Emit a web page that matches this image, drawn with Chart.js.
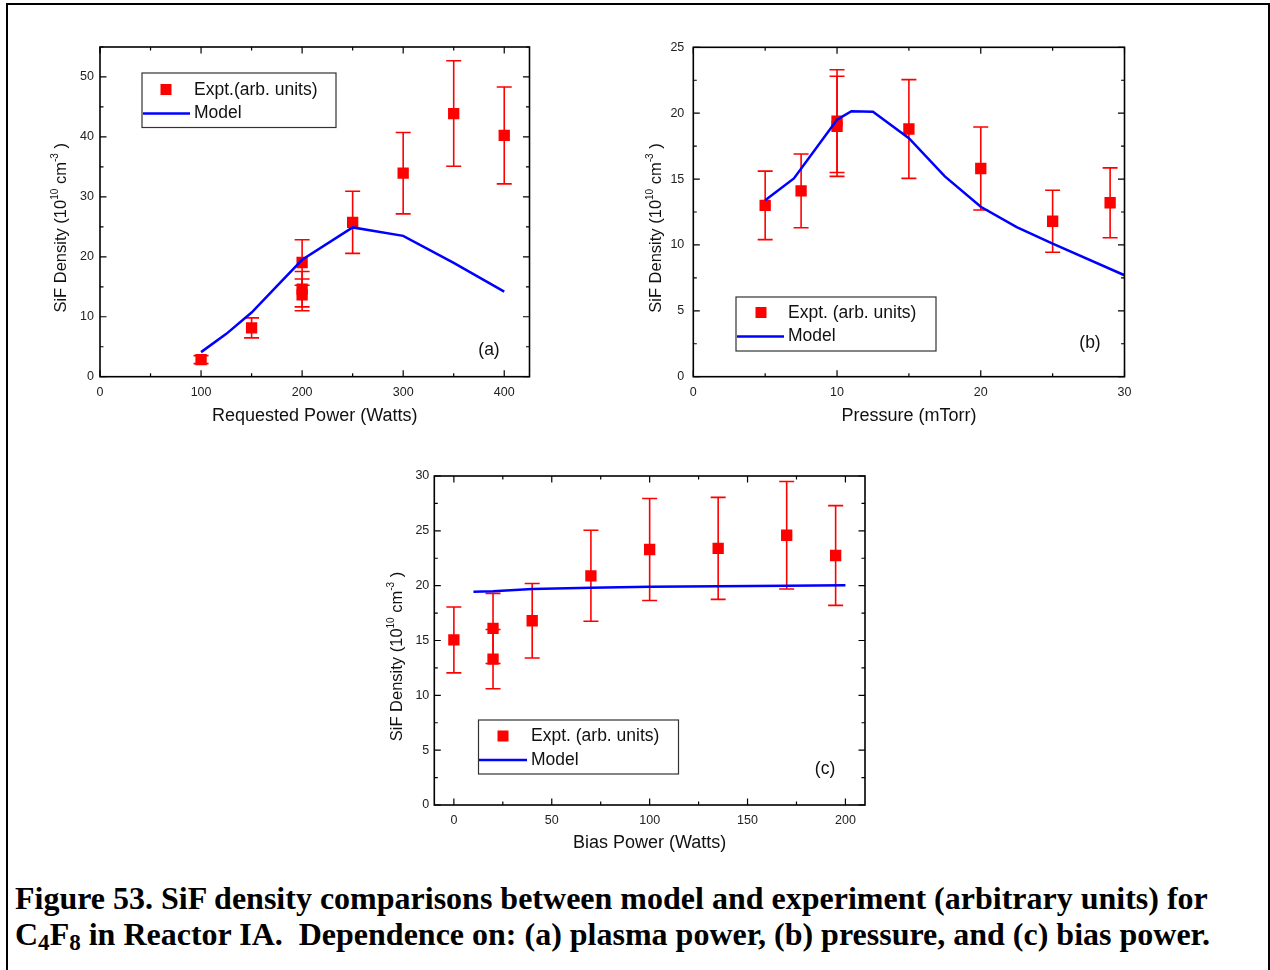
<!DOCTYPE html>
<html>
<head>
<meta charset="utf-8">
<title>SiF density comparisons</title>
<script src="https://cdn.jsdelivr.net/npm/chart.js@4.4.0/dist/chart.umd.min.js"></script>
<style>
  html, body { margin: 0; padding: 0; background: #fff; }
  body { width: 1270px; height: 970px; position: relative; overflow: hidden; }
  #frame { position: absolute; left: 6px; top: 3px; width: 1264px; height: 1000px;
           border: 2.5px solid #000; box-sizing: border-box; }
  .panel { position: absolute; }
  .panel canvas { display: block; }
  #caption { position: absolute; left: 15px; top: 880px; color: #000; white-space: pre;
             font: bold 32px "Liberation Serif", "Times New Roman", serif; line-height: 36px; }
  #caption sub { font-size: 0.72em; vertical-align: -0.22em; line-height: 0; }
</style>
</head>
<body>
<div id="frame"></div>
<div id="caption">Figure 53. SiF density comparisons between model and experiment (arbitrary units) for
C<sub>4</sub>F<sub>8</sub> in Reactor IA.  Dependence on: (a) plasma power, (b) pressure, and (c) bias power.</div>

<script>
// (a) requested plasma power
const powerTicksX = [0, 100, 200, 300, 400];
const powerTicksY = [0, 10, 20, 30, 40, 50];
const powerX      = [100, 150, 200, 200, 200, 250, 300, 350, 400];
const powerExpt   = [2.85, 8.15, 19.05, 14.6, 13.65, 25.75, 33.95, 43.9, 40.25];
const powerErr    = [0.67, 1.67, 3.8, 2.95, 2.65, 5.18, 6.78, 8.8, 8.08];
const powerModelX = [100, 125, 150, 175, 200, 250, 300, 350, 400];
const powerModel  = [4.1, 7.15, 10.7, 15.1, 19.5, 24.9, 23.5, 19.0, 14.2];

// (b) pressure
const pressTicksX = [0, 10, 20, 30];
const pressTicksY = [0, 5, 10, 15, 20, 25];
const pressX      = [5, 7.5, 10, 10, 15, 20, 25, 29];
const pressExpt   = [13.0, 14.1, 19.4, 19.0, 18.8, 15.8, 11.8, 13.2];
const pressErr    = [2.6, 2.8, 3.9, 3.8, 3.75, 3.15, 2.35, 2.65];
const pressModelX = [5, 7, 10, 11, 12.5, 15, 17.5, 20, 22.5, 25, 30];
const pressModel  = [13.4, 15.05, 19.5, 20.15, 20.1, 18.1, 15.2, 12.9, 11.35, 10.1, 7.7];

// (c) bias power
const biasTicksX = [0, 50, 100, 150, 200];
const biasTicksY = [0, 5, 10, 15, 20, 25, 30];
const biasX      = [0, 20, 20, 40, 70, 100, 135, 170, 195];
const biasExpt   = [15.05, 16.1, 13.3, 16.8, 20.9, 23.3, 23.4, 24.6, 22.75];
const biasErr    = [3.0, 3.2, 2.7, 3.4, 4.15, 4.65, 4.65, 4.9, 4.55];
const biasModelX = [10, 20, 40, 70, 100, 135, 170, 200];
const biasModel  = [19.45, 19.5, 19.7, 19.8, 19.9, 19.95, 20.0, 20.03];

const SANS = '"Liberation Sans", Arial, sans-serif';
const RED = '#ff0000';
const BLUE = '#0000ff';

// page coordinates: box = canvas rect, area = plot frame (left, top, right, bottom)
const panels = [
  {
    id: 'panelA', box: [20, 30, 540, 410], area: [100, 47, 529.5, 376.7],
    xMin: 0, xMax: 425, yMin: 0, yMax: 55,
    ticksX: powerTicksX, ticksY: powerTicksY, tickPadX: 8, tickPadY: 6,
    x: powerX, y: powerExpt, err: powerErr, modelX: powerModelX, model: powerModel,
    xTitle: 'Requested Power (Watts)', xTitleOff: 39, yTitleOff: 39,
    exptLabel: 'Expt.(arb. units)', tag: '(a)', tagPos: [489, 350],
    legend: { box: [142, 73, 336, 127.5], marker: [166, 89.5], textX: 194, rows: [90, 113.5], line: [143, 190] }
  },
  {
    id: 'panelB', box: [610, 30, 540, 410], area: [693.3, 47.3, 1124.5, 376.7],
    xMin: 0, xMax: 30, yMin: 0, yMax: 25,
    ticksX: pressTicksX, ticksY: pressTicksY, tickPadX: 8, tickPadY: 9,
    x: pressX, y: pressExpt, err: pressErr, modelX: pressModelX, model: pressModel,
    xTitle: 'Pressure (mTorr)', xTitleOff: 39, yTitleOff: 37,
    exptLabel: 'Expt. (arb. units)', tag: '(b)', tagPos: [1090, 343],
    legend: { box: [736, 297, 936, 351], marker: [761, 312.5], textX: 788, rows: [313, 336.5], line: [737, 784] }
  },
  {
    id: 'panelC', box: [350, 455, 540, 415], area: [434.3, 476, 865, 805],
    xMin: -10, xMax: 210, yMin: 0, yMax: 30,
    ticksX: biasTicksX, ticksY: biasTicksY, tickPadX: 8, tickPadY: 5,
    x: biasX, y: biasExpt, err: biasErr, modelX: biasModelX, model: biasModel,
    xTitle: 'Bias Power (Watts)', xTitleOff: 38, yTitleOff: 37,
    exptLabel: 'Expt. (arb. units)', tag: '(c)', tagPos: [825, 769],
    legend: { box: [478.5, 720, 678.5, 774], marker: [503, 736], textX: 531, rows: [736.5, 760], line: [479, 527] }
  }
];

// midpoints between major ticks, kept inside the axis range
function minorTicks(major, min, max) {
  const step = major[1] - major[0];
  const out = [];
  for (let v = major[0] - step / 2; v <= max; v += step) {
    if (v >= min && v <= max) out.push(v);
  }
  return out;
}

// rotated y title with raised exponents
function drawYTitle(ctx, cx, cy) {
  const parts = [
    { t: 'SiF Density (10', size: 16.5, dy: 0 },
    { t: '10', size: 10, dy: -6 },
    { t: ' cm', size: 16.5, dy: 0 },
    { t: '-3', size: 10, dy: -6 },
    { t: ' )', size: 16.5, dy: 0 }
  ];
  let total = 0;
  parts.forEach(p => { ctx.font = p.size + 'px ' + SANS; p.w = ctx.measureText(p.t).width; total += p.w; });
  ctx.save();
  ctx.translate(cx, cy);
  ctx.rotate(-Math.PI / 2);
  ctx.textBaseline = 'middle';
  ctx.textAlign = 'left';
  let x = -total / 2;
  parts.forEach(p => {
    ctx.font = p.size + 'px ' + SANS;
    ctx.fillText(p.t, x, p.dy);
    x += p.w;
  });
  ctx.restore();
}

const panelDecor = {
  id: 'panelDecor',
  beforeDatasetsDraw(chart) {
    const p = panels.find(q => q.id === chart.canvas.id);
    const ctx = chart.ctx, xs = chart.scales.x, ys = chart.scales.y;
    ctx.save();
    ctx.strokeStyle = RED;
    ctx.lineWidth = 1.6;
    p.x.forEach((xv, i) => {
      const px = xs.getPixelForValue(xv);
      const top = ys.getPixelForValue(p.y[i] + p.err[i]);
      const bot = ys.getPixelForValue(p.y[i] - p.err[i]);
      ctx.beginPath();
      ctx.moveTo(px, top); ctx.lineTo(px, bot);
      ctx.moveTo(px - 7.5, top); ctx.lineTo(px + 7.5, top);
      ctx.moveTo(px - 7.5, bot); ctx.lineTo(px + 7.5, bot);
      ctx.stroke();
    });
    ctx.restore();
  },
  afterDraw(chart) {
    const p = panels.find(q => q.id === chart.canvas.id);
    const ctx = chart.ctx, xs = chart.scales.x, ys = chart.scales.y;
    const a = chart.chartArea;
    const ox = p.box[0], oy = p.box[1];
    ctx.save();

    // frame
    ctx.strokeStyle = '#000';
    ctx.lineWidth = 1.6;
    ctx.strokeRect(a.left, a.top, a.right - a.left, a.bottom - a.top);

    // inward ticks on all four sides
    ctx.lineWidth = 1.2;
    ctx.beginPath();
    const tickX = (vals, len) => vals.forEach(v => {
      const px = xs.getPixelForValue(v);
      ctx.moveTo(px, a.bottom); ctx.lineTo(px, a.bottom - len);
      ctx.moveTo(px, a.top); ctx.lineTo(px, a.top + len);
    });
    const tickY = (vals, len) => vals.forEach(v => {
      const py = ys.getPixelForValue(v);
      ctx.moveTo(a.left, py); ctx.lineTo(a.left + len, py);
      ctx.moveTo(a.right, py); ctx.lineTo(a.right - len, py);
    });
    tickX(p.ticksX, 6.5);
    tickX(minorTicks(p.ticksX, p.xMin, p.xMax), 3.5);
    tickY(p.ticksY, 6.5);
    tickY(minorTicks(p.ticksY, p.yMin, p.yMax), 3.5);
    ctx.stroke();

    // axis titles
    ctx.fillStyle = '#111';
    ctx.font = '18px ' + SANS;
    ctx.textAlign = 'center';
    ctx.textBaseline = 'middle';
    ctx.fillText(p.xTitle, (a.left + a.right) / 2, a.bottom + p.xTitleOff);
    drawYTitle(ctx, a.left - p.yTitleOff, (a.top + a.bottom) / 2 + 16);

    // panel tag
    ctx.font = '17.5px ' + SANS;
    ctx.fillText(p.tag, p.tagPos[0] - ox, p.tagPos[1] - oy);

    // legend
    const lg = p.legend;
    ctx.strokeStyle = '#333';
    ctx.lineWidth = 1.2;
    ctx.strokeRect(lg.box[0] - ox, lg.box[1] - oy, lg.box[2] - lg.box[0], lg.box[3] - lg.box[1]);
    ctx.fillStyle = RED;
    ctx.fillRect(lg.marker[0] - ox - 5.5, lg.marker[1] - oy - 5.5, 11, 11);
    ctx.strokeStyle = BLUE;
    ctx.lineWidth = 2.5;
    ctx.beginPath();
    ctx.moveTo(lg.line[0] - ox, lg.rows[1] - oy);
    ctx.lineTo(lg.line[1] - ox, lg.rows[1] - oy);
    ctx.stroke();
    ctx.fillStyle = '#111';
    ctx.textAlign = 'left';
    ctx.font = '17.5px ' + SANS;
    ctx.fillText(p.exptLabel, lg.textX - ox, lg.rows[0] - oy);
    ctx.fillText('Model', lg.textX - ox, lg.rows[1] - oy);

    ctx.restore();
  }
};

panels.forEach(p => {
  const [bx, by, bw, bh] = p.box;
  const [L, T, R, B] = p.area;
  const wrap = document.createElement('div');
  wrap.className = 'panel';
  wrap.style.left = bx + 'px';
  wrap.style.top = by + 'px';
  const canvas = document.createElement('canvas');
  canvas.id = p.id;
  canvas.width = bw;
  canvas.height = bh;
  canvas.style.width = bw + 'px';
  canvas.style.height = bh + 'px';
  wrap.appendChild(canvas);
  document.body.appendChild(wrap);

  new Chart(canvas, {
    type: 'scatter',
    data: {
      datasets: [
        {
          label: 'Model',
          data: p.modelX.map((x, i) => ({ x: x, y: p.model[i] })),
          showLine: true,
          borderColor: BLUE,
          borderWidth: 2.5,
          pointRadius: 0,
          tension: 0,
          fill: false
        },
        {
          label: p.exptLabel,
          data: p.x.map((x, i) => ({ x: x, y: p.y[i] })),
          pointStyle: 'rect',
          pointRadius: 8,
          backgroundColor: RED,
          borderColor: RED,
          borderWidth: 0
        }
      ]
    },
    options: {
      responsive: false,
      animation: false,
      devicePixelRatio: 1,
      layout: { padding: { left: 0, top: T - by, right: bx + bw - R, bottom: 0 } },
      plugins: { legend: { display: false }, tooltip: { enabled: false } },
      scales: {
        x: {
          type: 'linear', min: p.xMin, max: p.xMax,
          grid: { display: false, drawTicks: false },
          border: { display: false },
          ticks: { font: { family: SANS, size: 12.5 }, color: '#222', padding: p.tickPadX, maxRotation: 0 },
          afterBuildTicks: s => { s.ticks = p.ticksX.map(v => ({ value: v })); },
          afterFit: s => { s.height = by + bh - B; }
        },
        y: {
          type: 'linear', min: p.yMin, max: p.yMax,
          grid: { display: false, drawTicks: false },
          border: { display: false },
          ticks: { font: { family: SANS, size: 12.5 }, color: '#222', padding: p.tickPadY },
          afterBuildTicks: s => { s.ticks = p.ticksY.map(v => ({ value: v })); },
          afterFit: s => { s.width = L - bx; }
        }
      }
    },
    plugins: [panelDecor]
  });
});
</script>
</body>
</html>
